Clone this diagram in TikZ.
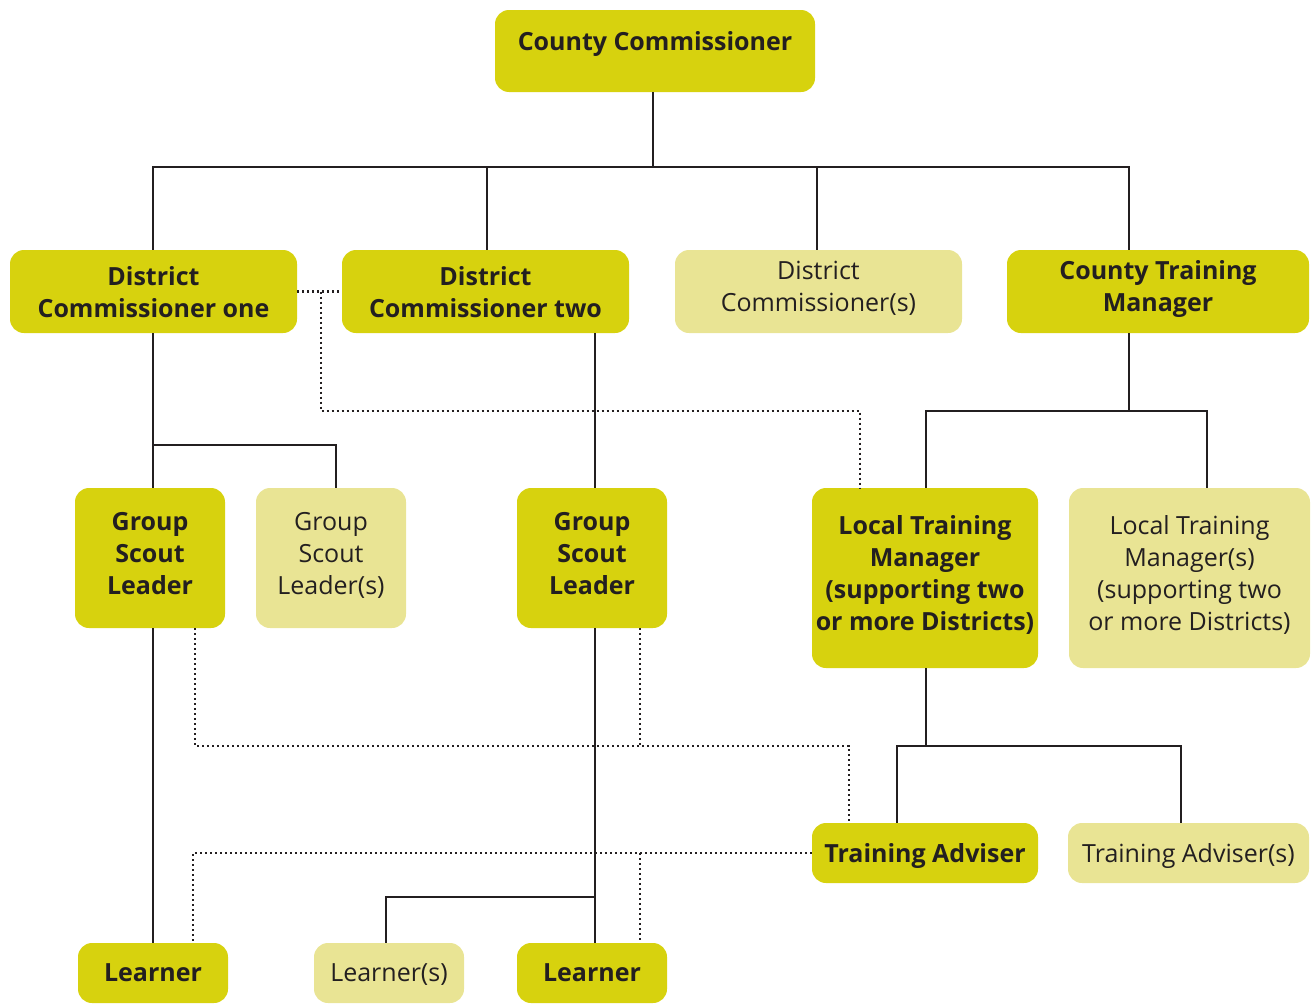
\documentclass[tikz,border=0pt]{standalone}
\usepackage{fontspec}
\setmainfont{Open Sans}
\definecolor{darkbox}{RGB}{215,210,14}
\definecolor{lightbox}{RGB}{233,228,148}
\definecolor{ink}{RGB}{35,31,32}
\begin{document}
\begin{tikzpicture}[x=1pt,y=-1pt,
  box/.style={rectangle,rounded corners=14pt,inner sep=0pt,align=center,text=ink,
    font=\fontsize{25}{32}\selectfont},
  darkb/.style={box,fill=darkbox,font=\fontsize{25}{32}\selectfont\bfseries},
  lightb/.style={box,fill=lightbox},
  solidline/.style={draw=ink,line width=2.6pt},
  dotline/.style={draw=ink,line width=2.2pt,dash pattern=on 2.2pt off 2.8pt}]
\useasboundingbox (0,0) rectangle (1312,1004);
% boxes
\node[darkb,minimum width=320pt,minimum height=82pt,text depth=20pt] (cc) at (655,51) {County Commissioner};
\node[darkb,minimum width=287pt,minimum height=83pt,text depth=0pt] (dc1) at (153.5,291.5) {District\\Commissioner one};
\node[darkb,minimum width=287pt,minimum height=83pt,text depth=0pt] (dc2) at (485.5,291.5) {District\\Commissioner two};
\node[lightb,minimum width=287pt,minimum height=83pt,text depth=11pt] (dcs) at (818.5,291.5) {District\\Commissioner(s)};
\node[darkb,minimum width=302pt,minimum height=83pt,text depth=11pt] (ctm) at (1158,291.5) {County Training\\Manager};
\node[darkb,minimum width=150pt,minimum height=140pt,text depth=10pt] (gsl1) at (150,558) {Group\\Scout\\Leader};
\node[lightb,minimum width=150pt,minimum height=140pt,text depth=10pt] (gsls) at (331,558) {Group\\Scout\\Leader(s)};
\node[darkb,minimum width=150pt,minimum height=140pt,text depth=10pt] (gsl2) at (592,558) {Group\\Scout\\Leader};
\node[darkb,minimum width=226pt,minimum height=180pt,text depth=10pt] (ltm) at (925,578) {Local Training\\Manager\\(supporting two\\or more Districts)};
\node[lightb,minimum width=241pt,minimum height=180pt,text depth=10pt] (ltms) at (1189.5,578) {Local Training\\Manager(s)\\(supporting two\\or more Districts)};
\node[darkb,minimum width=226pt,minimum height=60pt,text depth=0pt] (ta) at (925,853) {Training Adviser};
\node[lightb,minimum width=241pt,minimum height=60pt,text depth=0pt] (tas) at (1188.5,853) {Training Adviser(s)};
\node[darkb,minimum width=150pt,minimum height=60pt] (l1) at (153,973) {Learner};
\node[lightb,minimum width=150pt,minimum height=60pt,text depth=0pt] (ls) at (389,973) {Learner(s)};
\node[darkb,minimum width=150pt,minimum height=60pt] (l3) at (592,973) {Learner};
% solid connectors
\draw[solidline] (cc.south -| 653,0) -- (653,167);
\draw[solidline] (dc1.north -| 153,0) -- (153,167) -- (1129,167) -- (ctm.north -| 1129,0);
\draw[solidline] (dc2.north -| 487,0) -- (487,167);
\draw[solidline] (dcs.north -| 817,0) -- (817,167);
\draw[solidline] (dc1.south -| 153,0) -- (gsl1.north -| 153,0);
\draw[solidline] (153,445) -| (gsls.north -| 336,0);
\draw[solidline] (dc2.south -| 595,0) -- (gsl2.north -| 595,0);
\draw[solidline] (gsl1.south -| 153,0) -- (l1.north);
\draw[solidline] (gsl2.south -| 595,0) -- (l3.north -| 595,0);
\draw[solidline] (595,897) -| (ls.north -| 386,0);
\draw[solidline] (ctm.south -| 1129,0) -- (1129,411);
\draw[solidline] (ltm.north -| 926,0) |- (1207,411) -- (ltms.north -| 1207,0);
\draw[solidline] (ltm.south -| 926,0) -- (926,746);
\draw[solidline] (ta.north -| 897,0) |- (1181,746) -- (tas.north -| 1181,0);
% dotted connectors
\draw[dotline] (dc1.east) -- (dc2.west);
\draw[dotline] (321,291.5) |- (860,411) -- (ltm.north -| 860,0);
\draw[dotline] (gsl1.south -| 195,0) |- (849,746) -- (ta.north -| 849,0);
\draw[dotline] (gsl2.south -| 640,0) -- (640,746);
\draw[dotline] (ta.west) -- (193,853) -- (l1.north -| 193,0);
\draw[dotline] (640,853) -- (l3.north -| 640,0);
\end{tikzpicture}
\end{document}
